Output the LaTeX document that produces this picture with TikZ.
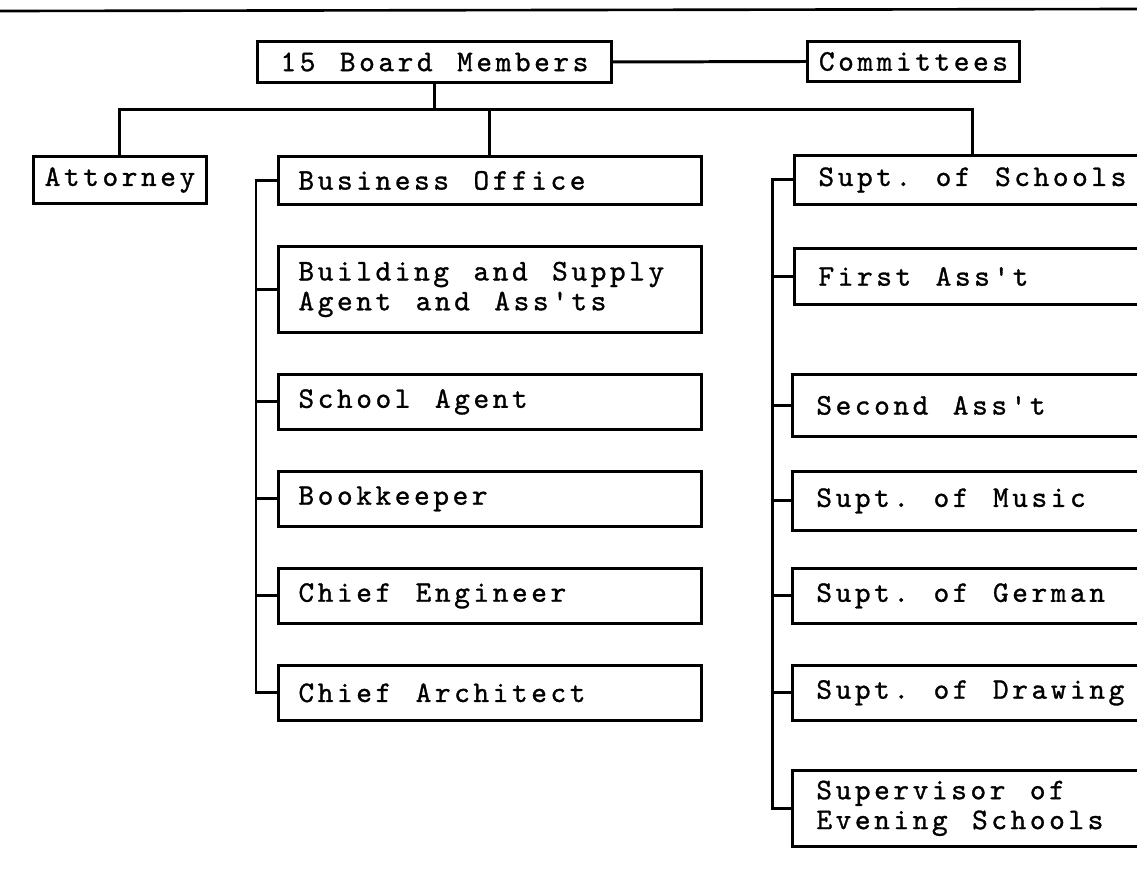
\documentclass[tikz,border=0pt]{standalone}
\usepackage{fontspec}
\setmonofont{lmmono10-regular.otf}[LetterSpace=12,WordSpace={1.27,0,0},FakeBold=1]
\usetikzlibrary{positioning}

\begin{document}
\begin{tikzpicture}[
    x=0.02cm, y=-0.02cm,
    node distance=0.78cm and 1.76cm,
    box/.style={rectangle, draw, line width=1.7pt, inner ysep=0pt,
        font=\ttfamily\fontsize{17pt}{17pt}\selectfont\frenchspacing},
    midbox/.style={box, text width=7.66cm, inner xsep=0.4cm, align=flush left, minimum height=1.1cm},
    rightbox/.style={box, text width=6.18cm, inner xsep=0.48cm, align=flush left, minimum height=1.1cm},
    link/.style={line width=1.7pt}
]
    \useasboundingbox (0,0) rectangle (1137,896);
    \draw[line width=1.5pt] (0,11) -- (1137,9);

    \node[box, anchor=north west, minimum width=7.08cm, minimum height=0.82cm] (board) at (256,40) {15 Board Members};
    \node[box, anchor=north west, minimum width=4.24cm, minimum height=0.8cm] (committees) at (806,40) {Committees};
    \node[box, anchor=north west, minimum width=3.46cm, minimum height=0.94cm] (attorney) at (32,155) {Attorney};

    % business side
    \node[midbox, anchor=north west, minimum height=0.96cm] (business) at (277,155) {Business Office};
    \node[midbox, below=of business, minimum height=1.72cm] (building) {Building and Supply\\Agent and Ass'ts};
    \node[midbox, below=of building] (school) {School Agent};
    \node[midbox, below=of school] (bookkeeper) {Bookkeeper};
    \node[midbox, below=of bookkeeper] (engineer) {Chief Engineer};
    \node[midbox, below=of engineer] (architect) {Chief Architect};

    % schools side
    \node[rightbox, anchor=north west, minimum height=0.98cm] (schools) at (793,154) {Supt. of Schools};
    \node[rightbox, below=0.82cm of schools, minimum height=1.12cm] (first) {First Ass't};
    \node[rightbox, right=of school.north east, anchor=north west, minimum height=1.24cm] (second) {Second Ass't};
    \node[rightbox, right=of bookkeeper.north east, anchor=north west, minimum height=1.18cm] (music) {Supt. of Music};
    \node[rightbox, right=of engineer.north east, anchor=north west] (german) {Supt. of German};
    \node[rightbox, right=of architect.north east, anchor=north west] (drawing) {Supt. of Drawing};
    \node[rightbox, below=0.94cm of drawing, minimum height=1.52cm] (evening) {Supervisor of\\Evening Schools};

    \coordinate (bus) at ([yshift=-0.52cm]board.south);
    \draw[link] (board.east) -- (committees.west);
    \draw[link] (board.south) -- (bus);
    \draw[link] (attorney.north) |- (bus) -| (schools.north);
    \draw[link] (business.north) -- (business.north |- bus);

    \draw[link] (business.west) -- ++(-0.42cm,0) coordinate (midtrunk) |- (architect.west);
    \foreach \n in {building,school,bookkeeper,engineer}
        \draw[link] (\n.west) -- (\n.west -| midtrunk);

    \draw[link] (schools.west) -- ++(-0.42cm,0) coordinate (righttrunk) |- (evening.west);
    \foreach \n in {first,second,music,german,drawing}
        \draw[link] (\n.west) -- (\n.west -| righttrunk);
\end{tikzpicture}
\end{document}
